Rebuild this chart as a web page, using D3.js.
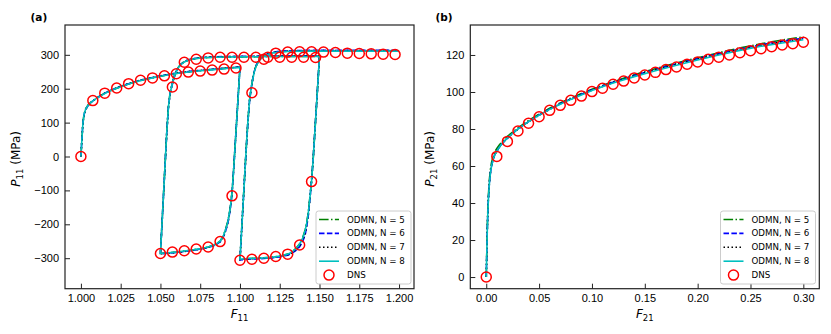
<!DOCTYPE html>
<meta charset="utf-8">
<title>ODMN vs DNS</title>
<style>
    body { margin: 0; background: #fff; }
    svg { display: block; font-family: "DejaVu Sans", sans-serif; }
    .tick text { font-size: 11px; fill: #000; }
    .tick line { stroke: #222; stroke-width: 1px; }
    .frame { fill: none; stroke: #222; stroke-width: 1.2px; }
    .odmn { fill: none; stroke-width: 1.6px; }
    .dns { fill: none; stroke: #ff0000; stroke-width: 1.5px; }
    .legbox { fill: #fff; fill-opacity: 0.8; stroke: #cccccc; stroke-width: 1px; }
    .legtext { font-size: 8.7px; fill: #000; }
</style>

<body>
<div id="chart"></div>
<script src="https://d3js.org/d3.v7.min.js"></script>
<script>

// ---------- panel (a): uniaxial cyclic, F11 path ----------
var pathF11 = [
    1.0, 1.0003, 1.0006, 1.0009, 1.0013, 1.002, 1.003, 1.0045, 1.006, 1.0075, 1.01, 1.0125, 1.015, 1.02, 1.025,
    1.03, 1.035, 1.04, 1.045, 1.05, 1.055, 1.06, 1.065, 1.07, 1.075, 1.08, 1.085, 1.09, 1.095, 1.1,
    1.099, 1.098, 1.097, 1.096, 1.0952, 1.0945, 1.0935, 1.0925, 1.091, 1.0895, 1.0875, 1.085, 1.0825, 1.08,
    1.0775, 1.075, 1.0725, 1.07, 1.065, 1.06, 1.055, 1.05,
    1.051, 1.052, 1.053, 1.054, 1.055, 1.056, 1.057, 1.058, 1.059, 1.06, 1.0615, 1.063, 1.065, 1.0675, 1.07,
    1.0725, 1.075, 1.08, 1.085, 1.09, 1.1, 1.11, 1.12, 1.13, 1.14, 1.15,
    1.149, 1.148, 1.147, 1.146, 1.145, 1.144, 1.143, 1.142, 1.141, 1.1395, 1.1375, 1.135, 1.1325, 1.13,
    1.125, 1.12, 1.115, 1.11, 1.105, 1.1,
    1.101, 1.102, 1.103, 1.104, 1.105, 1.106, 1.107, 1.108, 1.109, 1.11, 1.1115, 1.113, 1.115, 1.1175,
    1.12, 1.125, 1.13, 1.14, 1.15, 1.16, 1.17, 1.18, 1.19, 1.2
];

var odmnA5 = [
    0, 24, 48, 72, 101, 126, 141, 152, 159, 165, 173, 180, 187, 197, 206,
    214, 221, 227, 232, 237, 241, 245, 248, 251, 253, 256, 258, 260, 262, 264,
    188, 112, 36, -39, -94, -129, -162, -189, -214, -234, -250, -258, -263, -267,
    -270, -272, -274, -276, -279, -282, -284, -286,
    -196, -106, -16, 74, 146, 186, 207, 226, 241, 252, 265, 273, 279, 284, 287,
    289, 290.5, 292, 293, 293.5, 294, 294.5, 295, 295.5, 295.5, 295.5,
    219, 143, 67, -9, -71, -118, -163, -193, -216, -238, -257, -272, -282, -288,
    -294, -297, -299, -300, -301, -303,
    -220, -136, -52, 30, 106, 166, 201, 229, 251, 266, 280, 289, 296, 302,
    306, 309, 310.5, 311.5, 311.5, 311.5, 311.5, 311.5, 311.5, 311
];

var odmnA6 = [
    0, 24, 48, 72, 100, 124, 139, 150, 158, 164, 172, 180, 187, 198, 207,
    215, 222, 228, 233, 238, 242, 246, 249, 252, 254, 256, 258, 260, 262, 264,
    188, 112, 36, -40, -96, -133, -167, -194, -219, -238, -252, -260, -265, -268,
    -271, -273, -275, -277, -280, -283, -285, -287,
    -197, -107, -17, 73, 144, 184, 205, 224, 240, 251, 264, 273, 280, 285, 288,
    290, 291.5, 293, 294, 295, 295.5, 296, 296.5, 297, 297, 297,
    221, 145, 69, -7, -72, -124, -172, -205, -230, -250, -266, -278, -286, -291,
    -296, -299, -301, -302, -303, -305,
    -222, -138, -54, 28, 103, 163, 199, 228, 251, 267, 281, 290, 297, 303,
    307, 310.5, 312, 313, 313.5, 313.5, 313.5, 313.5, 313.5, 313.5
];

var odmnA7 = [
    0, 24, 48, 72, 100, 124, 139, 150, 158, 164, 172, 180, 187, 198, 207,
    215, 222, 228, 233, 238, 242, 246, 249, 252, 254, 256, 258, 260, 262, 264,
    188, 112, 36, -40, -95, -132, -166, -193, -218, -237, -251, -259, -264, -268,
    -271, -273, -275, -277, -280, -283, -285, -287,
    -197, -107, -17, 73, 144, 184, 205, 224, 240, 251, 264, 273, 280, 285, 288,
    290, 291.5, 293, 294, 294.5, 295, 295.5, 296, 296.5, 296.5, 296.5,
    220, 144, 68, -8, -72, -122, -169, -201, -226, -247, -263, -276, -285, -290,
    -295, -298, -300, -301, -302, -304,
    -221, -137, -53, 29, 104, 164, 200, 228, 251, 266, 280, 289, 296, 302,
    306, 309.5, 311, 312, 312.5, 312.5, 312.5, 312.5, 312.5, 312.5
];

var odmnA8 = [
    0, 24, 48, 72, 100, 125, 140, 151, 158, 164, 172, 179, 186, 197, 206,
    214, 221, 227, 232, 237, 241, 245, 248, 251, 253, 255, 257, 259, 261, 263,
    187, 111, 35, -40, -95, -130, -163, -190, -215, -235, -250, -258, -263, -267,
    -270, -272, -274, -276, -279, -282, -284, -286,
    -196, -106, -16, 74, 145, 185, 206, 225, 240, 251, 264, 272, 279, 284, 287,
    289, 290.5, 292, 293, 293.5, 294, 294.5, 295, 295, 295, 295,
    219, 143, 67, -9, -72, -120, -165, -195, -218, -240, -258, -273, -282, -288,
    -294, -297, -299, -300, -301, -303,
    -220, -136, -52, 30, 105, 165, 200, 228, 250, 265, 279, 288, 295, 301,
    305, 308.5, 310, 311, 311, 311, 311, 311, 311, 311
];

var dnsF11 = [
    1.0, 1.0075, 1.015, 1.0225, 1.03, 1.0375, 1.045, 1.0525, 1.06, 1.0675, 1.075, 1.0825, 1.09, 1.0975,
    1.095, 1.0875, 1.08, 1.0725, 1.065, 1.0575, 1.05,
    1.0575, 1.065, 1.0725, 1.08, 1.0875, 1.095, 1.1025, 1.11, 1.1175, 1.125, 1.1325, 1.14, 1.1475,
    1.145, 1.1375, 1.13, 1.1225, 1.115, 1.1075, 1.1,
    1.1075, 1.115, 1.1225, 1.13, 1.1375, 1.145, 1.1525, 1.16, 1.1675, 1.175, 1.1825, 1.19, 1.1975
];
var dnsP11 = [
    0, 165, 187, 202, 215, 225, 232, 238, 244, 249, 252, 255, 258, 261,
    -116, -251, -267, -273, -278, -282, -286,
    205, 278, 287, 291, 293, 293, 293, 293, 293, 293, 293, 293, 292,
    -74, -261, -288, -295, -300, -303, -306,
    188, 287, 305, 308, 309, 309, 308, 307, 305, 304, 303, 302, 301
];

var ticksF11 = [1.0, 1.025, 1.05, 1.075, 1.1, 1.125, 1.15, 1.175, 1.2];
var ticksP11 = [-300, -200, -100, 0, 100, 200, 300];

// ---------- panel (b): simple shear, F21 ----------
var pathF21 = [
    0, 0.0005, 0.001, 0.0015, 0.002, 0.003, 0.004, 0.005, 0.0065, 0.008, 0.01, 0.0125, 0.015, 0.02, 0.025,
    0.03, 0.04, 0.05, 0.06, 0.07, 0.08, 0.09, 0.10, 0.12, 0.14, 0.16, 0.18, 0.20, 0.22, 0.24, 0.26, 0.28, 0.30
];
var odmnB5 = [
    0, 13.5, 27, 37, 44, 53, 58.5, 62, 65, 67.5, 69.5, 71.5, 73.2, 76, 78.4,
    80.6, 84.6, 88, 91.2, 94.1, 96.7, 99.2, 101.5, 105.6, 109.3, 112.6, 115.7, 118.5, 121.2, 123.8, 126.1, 128.1, 129.8
];
var odmnB6 = [
    0, 13, 26, 35, 42, 51, 56.5, 60, 63.5, 66, 68, 70.2, 72, 75, 77.6,
    80, 84, 87.6, 90.8, 93.7, 96.3, 98.8, 101.2, 105.3, 108.9, 112.2, 115.2, 118, 120.7, 123.2, 125.5, 127.5, 129
];
var odmnB7 = [
    0, 13, 26, 35, 42, 51, 56.5, 60, 63.5, 66, 68, 70.2, 72.1, 75.1, 77.6,
    79.9, 83.9, 87.4, 90.6, 93.5, 96.1, 98.6, 101, 105.1, 108.7, 111.9, 114.9, 117.7, 120.4, 122.9, 125.2, 127.2, 128.8
];
var odmnB8 = [
    0, 13, 26, 35, 42, 51, 56.5, 60, 63.5, 66, 68, 70.3, 72.2, 75.2, 77.7,
    80, 84, 87.5, 90.6, 93.4, 96, 98.4, 100.8, 104.8, 108.3, 111.5, 114.5, 117.3, 120, 122.5, 124.7, 126.5, 128.2
];

var dnsF21 = [0, 0.01, 0.02, 0.03, 0.04, 0.05, 0.06, 0.07, 0.08, 0.09, 0.10, 0.11, 0.12, 0.13, 0.14, 0.15,
    0.16, 0.17, 0.18, 0.19, 0.20, 0.21, 0.22, 0.23, 0.24, 0.25, 0.26, 0.27, 0.28, 0.29, 0.30];
var dnsP21 = [0, 65.2, 73.3, 78.9, 83.1, 86.6, 90.1, 92.8, 95.5, 97.8, 100.2, 102, 104.2, 105.9, 107.6, 109.2,
    110.6, 112.1, 113.5, 115, 116.2, 117.7, 118.8, 120, 121.2, 122.3, 123.4, 124.5, 125.4, 126.1, 126.9];

var ticksF21 = [0, 0.05, 0.10, 0.15, 0.20, 0.25, 0.30];
var ticksP21 = [0, 20, 40, 60, 80, 100, 120];

// legend entries
var legendLabels = ["ODMN, N = 5", "ODMN, N = 6", "ODMN, N = 7", "ODMN, N = 8", "DNS"];
var seriesColors = ["#008000", "#0000ff", "#000000", "#00bfbf"];
var seriesDash = ["9.6,2.4,1.5,2.4", "5.5,2.4", "1.5,2.5", null];

var svg = d3.select("#chart").append("svg")
    .attr("width", 831)
    .attr("height", 334);

function drawPanel(opt) {
    var x = d3.scaleLinear().domain(opt.xDomain).range([opt.left, opt.right]);
    var y = d3.scaleLinear().domain(opt.yDomain).range([opt.bottom, opt.top]);
    var g = svg.append("g");

    g.append("clipPath").attr("id", opt.id + "clip")
        .append("rect")
        .attr("x", opt.left).attr("y", opt.top)
        .attr("width", opt.right - opt.left).attr("height", opt.bottom - opt.top);

    // x axis, ticks pointing in
    g.append("g")
        .attr("transform", "translate(0," + opt.bottom + ")")
        .call(d3.axisBottom(x).tickValues(opt.xTicks).tickFormat(d3.format(opt.xFmt))
            .tickSizeInner(-5).tickSizeOuter(0).tickPadding(6))
        .call(function (a) { a.select(".domain").remove(); });

    // y axis
    g.append("g")
        .attr("transform", "translate(" + opt.left + ",0)")
        .call(d3.axisLeft(y).tickValues(opt.yTicks).tickFormat(d3.format("d"))
            .tickSizeInner(-5).tickSizeOuter(0).tickPadding(6))
        .call(function (a) { a.select(".domain").remove(); });

    var plot = g.append("g").attr("clip-path", "url(#" + opt.id + "clip)");

    var line = d3.line()
        .x(function (d) { return x(d[0]); })
        .y(function (d) { return y(d[1]); });

    opt.series.forEach(function (vals, i) {
        var pts = opt.pathX.map(function (v, k) { return [v, vals[k]]; });
        plot.append("path")
            .datum(pts)
            .attr("class", "odmn")
            .attr("stroke", seriesColors[i])
            .attr("stroke-dasharray", seriesDash[i])
            .attr("d", line);
    });

    plot.selectAll("circle.dns")
        .data(opt.dnsX.map(function (v, k) { return [v, opt.dnsY[k]]; }))
        .enter().append("circle")
        .attr("class", "dns")
        .attr("cx", function (d) { return x(d[0]); })
        .attr("cy", function (d) { return y(d[1]); })
        .attr("r", 5);

    g.append("rect")
        .attr("class", "frame")
        .attr("x", opt.left).attr("y", opt.top)
        .attr("width", opt.right - opt.left).attr("height", opt.bottom - opt.top);

    // panel tag
    g.append("text")
        .attr("x", opt.tagX).attr("y", 20.5)
        .style("font-size", "10.5px").style("font-weight", "bold")
        .text(opt.tag);

    // x label
    var xl = g.append("text")
        .attr("x", (opt.left + opt.right) / 2).attr("y", 318)
        .attr("text-anchor", "middle").style("font-size", "12px");
    xl.append("tspan").style("font-style", "italic").text("F");
    xl.append("tspan").attr("dy", 3).style("font-size", "8.5px").text(opt.sub);

    // y label
    var yl = g.append("text")
        .attr("transform", "translate(" + opt.yLabelX + "," + ((opt.top + opt.bottom) / 2 + 2) + ") rotate(-90)")
        .attr("text-anchor", "middle").style("font-size", "12px");
    yl.append("tspan").style("font-style", "italic").text("P");
    yl.append("tspan").attr("dy", 3).style("font-size", "8.5px").text(opt.sub);
    yl.append("tspan").attr("dy", -3).text("\u00a0(MPa)");

    // legend
    var lg = g.append("g").attr("transform", "translate(" + opt.legX + ",211)");
    lg.append("rect").attr("class", "legbox")
        .attr("x", 0).attr("y", 0).attr("width", 95).attr("height", 73).attr("rx", 2.5);
    legendLabels.forEach(function (lab, i) {
        var yy = 8.5 + i * 13.9;
        if (i < 4) {
            lg.append("line")
                .attr("x1", 3).attr("x2", 23).attr("y1", yy).attr("y2", yy)
                .attr("stroke", seriesColors[i]).attr("stroke-width", 1.6)
                .attr("stroke-dasharray", seriesDash[i]);
        } else {
            lg.append("circle").attr("class", "dns").attr("cx", 13).attr("cy", yy).attr("r", 5);
        }
        lg.append("text").attr("class", "legtext")
            .attr("x", 31).attr("y", yy).attr("dy", "0.35em")
            .text(lab);
    });
}

drawPanel({
    id: "a", tag: "(a)", tagX: 30.5, sub: "11",
    left: 65, right: 414, top: 25, bottom: 288.7,
    xDomain: [0.99, 1.2094], yDomain: [-390, 388],
    xTicks: ticksF11, yTicks: ticksP11, xFmt: ".3f",
    pathX: pathF11, series: [odmnA5, odmnA6, odmnA7, odmnA8],
    dnsX: dnsF11, dnsY: dnsP11,
    yLabelX: 19.5, legX: 316
});

drawPanel({
    id: "b", tag: "(b)", tagX: 435.5, sub: "21",
    left: 470.3, right: 819.3, top: 25, bottom: 288.7,
    xDomain: [-0.0151, 0.3151], yDomain: [-6.3, 136.2],
    xTicks: ticksF21, yTicks: ticksP21, xFmt: ".2f",
    pathX: pathF21, series: [odmnB5, odmnB6, odmnB7, odmnB8],
    dnsX: dnsF21, dnsY: dnsP21,
    yLabelX: 434, legX: 720.5
});

</script>
</body>
